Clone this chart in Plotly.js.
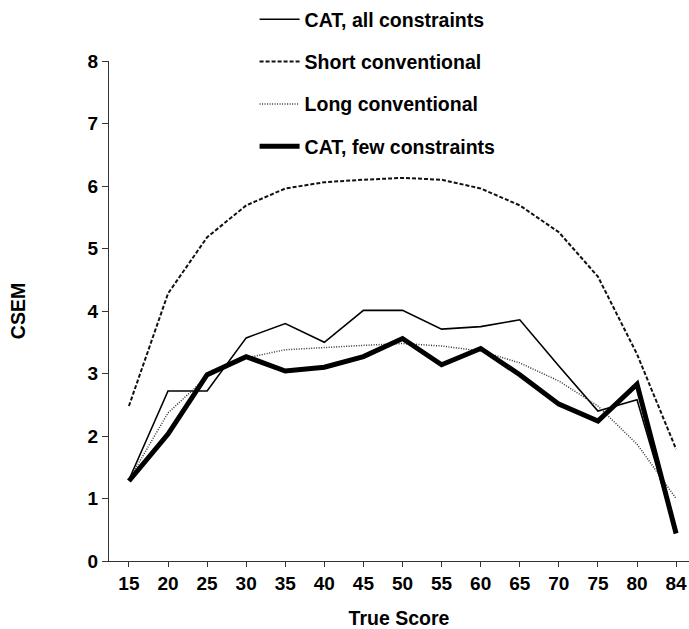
<!DOCTYPE html>
<html>
<head>
<meta charset="utf-8">
<script src="https://cdn.plot.ly/plotly-3.0.1.min.js"></script>
<style>html,body{margin:0;padding:0;background:#fff;}#chart{width:689px;height:629px;}</style>
</head>
<body>
<div id="chart"></div>
<script>
const trueScores = ["15","20","25","30","35","40","45","50","55","60","65","70","75","80","84"];
const catAll =      [1.30, 2.72, 2.72, 3.57, 3.80, 3.50, 4.01, 4.01, 3.71, 3.75, 3.86, 3.12, 2.40, 2.58, 0.45];
const shortConv =   [2.48, 4.28, 5.18, 5.69, 5.96, 6.06, 6.10, 6.13, 6.10, 5.96, 5.69, 5.26, 4.55, 3.31, 1.79];
const longConv =    [1.30, 2.37, 2.95, 3.25, 3.38, 3.42, 3.45, 3.48, 3.44, 3.36, 3.17, 2.88, 2.48, 1.87, 1.00];
const catFew =      [1.28, 2.03, 2.98, 3.27, 3.04, 3.10, 3.27, 3.56, 3.14, 3.40, 2.98, 2.51, 2.24, 2.83, 0.44];
const yTicks = [0,1,2,3,4,5,6,7,8];

const FONT = 'Arial, "Liberation Sans", Helvetica, sans-serif';

const traces = [
  {name: "CAT, all constraints", y: catAll, line: {color: "#000", width: 1.6}},
  {name: "Short conventional", y: shortConv, line: {color: "#111", width: 2, dash: "4px,2px"}},
  {name: "Long conventional", y: longConv, line: {color: "#333", width: 1.5, dash: "1px,1.5px"}},
  {name: "CAT, few constraints", y: catFew, line: {color: "#000", width: 5}}
].map((t, i) => Object.assign({
  type: "scatter", mode: "lines", x: trueScores, legendgroup: "g" + i
}, t));

const layout = {
  width: 689, height: 629,
  margin: {l: 109, r: 0, t: 58, b: 68},
  paper_bgcolor: "#fff", plot_bgcolor: "#fff",
  font: {family: FONT, color: "#000", size: 18},
  showlegend: true,
  legend: {
    x: 0.251, xanchor: "left", y: 1.122, yanchor: "top",
    font: {family: FONT, size: 19.5, weight: "bold", color: "#000"},
    tracegroupgap: 14, bgcolor: "rgba(0,0,0,0)", itemwidth: 40
  },
  xaxis: {
    type: "category", range: [-0.51, 14.33],
    showgrid: false, zeroline: false,
    showline: true, linecolor: "#333", linewidth: 1,
    ticks: "outside", ticklen: 5, tickcolor: "#333",
    tickfont: {family: FONT, size: 19, weight: "bold"},
    title: {text: "True Score", font: {family: FONT, size: 19.5, weight: "bold"}, standoff: 20}
  },
  yaxis: {
    range: [0, 8], tickvals: yTicks,
    showgrid: false, zeroline: false,
    showline: true, linecolor: "#333", linewidth: 1,
    ticks: "outside", ticklen: 6, tickcolor: "#333",
    tickfont: {family: FONT, size: 19, weight: "bold"},
    title: {text: "CSEM", font: {family: FONT, size: 19.5, weight: "bold"}, standoff: 56}
  }
};

Plotly.newPlot("chart", traces, layout, {displayModeBar: false, staticPlot: true});
</script>
</body>
</html>
